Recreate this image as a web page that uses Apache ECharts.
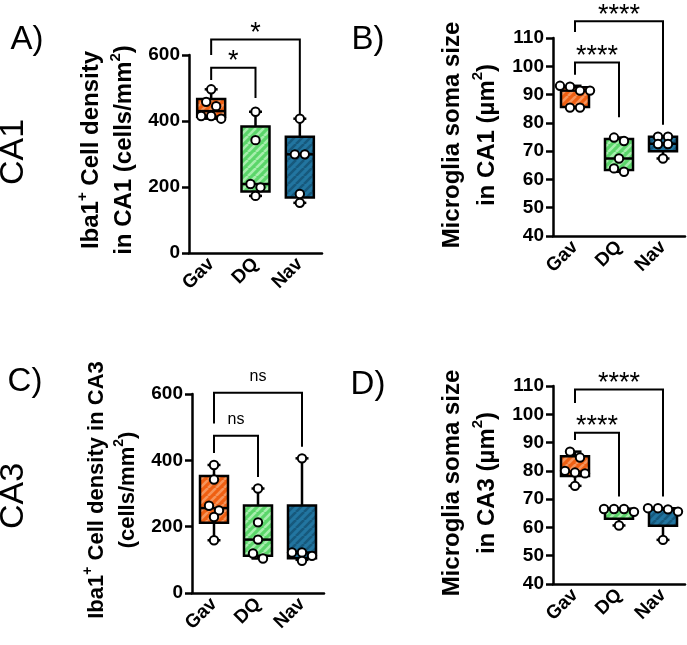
<!DOCTYPE html>
<html><head><meta charset="utf-8">
<script src="https://cdn.jsdelivr.net/npm/echarts@6/dist/echarts.min.js"></script>
<style>html,body{margin:0;padding:0;background:#fff}#c{width:687px;height:645px}</style>
</head><body><div id="c"></div>
<script>
// ---------- data ----------
const categories = ['Gav', 'DQ', 'Nav'];

// Iba1+ cell density in CA1 (cells/mm2)
const densityCA1Points = [[496, 458, 445, 415, 415, 407], [428, 342, 209, 199, 173], [407, 299, 299, 179, 152]];
const densityCA1Box = [[407, 413, 430, 467, 496], [173, 186, 209, 383, 428], [152, 168, 299, 352, 407]]; // min,q1,med,q3,max
const densityCA1Sig = [[0, 1, 561, 524, 470, '*'], [0, 2, 647, 600, 415, '*']]; // from,to,bar,leftEnd,rightEnd,label

// Microglia soma size in CA1 (um2)
const somaCA1Points = [[93.1, 92.8, 91.4, 91.4, 85.4, 85.4], [74.8, 73.6, 67.4, 63.9, 62.7], [75.1, 75.1, 72.5, 72.5, 67.4]];
const somaCA1Box = [[85.4, 85.6, 91.4, 92.6, 93.1], [62.7, 63.3, 67.4, 74.3, 74.8], [67.4, 70.0, 72.6, 75.1, 75.1]];
const somaCA1Sig = [[0, 1, 101.3, 97.0, 82.0, '****'], [0, 2, 115.9, 112.1, 79.3, '****']];

// Iba1+ cell density in CA3 (cells/mm2)
const densityCA3Points = [[386, 342, 263, 249, 229, 159], [315, 213, 161, 119, 104], [406, 122, 122, 112, 97]];
const densityCA3Box = [[159, 212, 256, 353, 386], [104, 112, 161, 264, 315], [100, 105, 122, 264, 406]];
const densityCA3Sig = [[0, 1, 474, 422, 350, 'ns'], [0, 2, 604, 511, 441, 'ns']];

// Microglia soma size in CA3 (um2)
const somaCA3Points = [[86.8, 84.7, 80.0, 79.4, 79.1, 74.7], [66.5, 66.5, 66.5, 65.5, 60.7], [66.8, 66.8, 66.4, 65.6, 55.6]];
const somaCA3Box = [[74.7, 78.2, 79.7, 85.2, 86.8], [60.7, 63.1, 66.5, 66.6, 66.6], [55.6, 60.6, 66.4, 66.8, 66.8]];
const somaCA3Sig = [[0, 1, 93.5, 90.9, 70.9, '****'], [0, 2, 108.8, 104.0, 70.9, '****']];

// ---------- styling ----------
const FONT = '"Liberation Sans", Arial, sans-serif';
function makePattern(base, stripe) {
  const s = 8;
  const c = document.createElement('canvas');
  c.width = s; c.height = s;
  const g = c.getContext('2d');
  g.fillStyle = base; g.fillRect(0, 0, s, s);
  g.strokeStyle = stripe; g.lineWidth = 2.6;
  g.beginPath();
  for (let k = -1; k <= 1; k++) { g.moveTo(k * s, s); g.lineTo(k * s + s, 0); }
  g.stroke();
  return { image: c, repeat: 'repeat' };
}
const fills = [
  makePattern('#EF5F12', '#F6945A'),
  makePattern('#5BD66A', '#A6EEAD'),
  makePattern('#2275A0', '#17597C')
];

const panels = [
  { grid: { left: 189, top: 55, width: 133, height: 198 }, min: 0, max: 600, interval: 200, pts: densityCA1Points, box: densityCA1Box, sig: densityCA1Sig },
  { grid: { left: 553, top: 38, width: 132, height: 198 }, min: 40, max: 110, interval: 10, pts: somaCA1Points, box: somaCA1Box, sig: somaCA1Sig },
  { grid: { left: 192, top: 394, width: 132, height: 199 }, min: 0, max: 600, interval: 200, pts: densityCA3Points, box: densityCA3Box, sig: densityCA3Sig },
  { grid: { left: 553, top: 386, width: 132, height: 198 }, min: 40, max: 110, interval: 10, pts: somaCA3Points, box: somaCA3Box, sig: somaCA3Sig }
];

const grids = [], xAxes = [], yAxes = [], series = [];
panels.forEach((p, i) => {
  grids.push(Object.assign({ outerBoundsMode: 'none', containLabel: false }, p.grid));
  xAxes.push({
    type: 'category', gridIndex: i, data: categories,
    axisLine: { lineStyle: { color: '#000', width: 2.5 } },
    axisTick: { alignWithLabel: true, length: 6, lineStyle: { color: '#000', width: 2.5 } },
    axisLabel: { rotate: 45, fontSize: 19, fontWeight: 'bold', color: '#000', fontFamily: FONT, margin: 8, interval: 0 },
    splitLine: { show: false }
  });
  yAxes.push({
    type: 'value', gridIndex: i, min: p.min, max: p.max, interval: p.interval,
    axisLine: { show: true, lineStyle: { color: '#000', width: 2.5 } },
    axisTick: { show: true, length: 7, lineStyle: { color: '#000', width: 2.5 } },
    axisLabel: { fontSize: 19, fontWeight: 'bold', color: '#000', fontFamily: FONT, margin: 9, showMinLabel: true, showMaxLabel: true },
    splitLine: { show: false }
  });
  // significance brackets
  series.push({
    type: 'custom', xAxisIndex: i, yAxisIndex: i, clip: false, silent: true, z: 1,
    data: p.sig.map(s => [s[0], s[1], s[2], s[3], s[4]]),
    renderItem: (params, api) => {
      const s = p.sig[params.dataIndex];
      const a = api.coord([s[0], s[2]]), b = api.coord([s[1], s[2]]);
      const l = api.coord([s[0], s[3]]), r = api.coord([s[1], s[4]]);
      const isNs = s[5] === 'ns';
      return {
        type: 'group', children: [
          { type: 'polyline', shape: { points: [[a[0], l[1]], [a[0], a[1]], [b[0], b[1]], [b[0], r[1]]] }, style: { stroke: '#000', lineWidth: 2, fill: null } },
          { type: 'text', x: (a[0] + b[0]) / 2, y: a[1] - (isNs ? 16 : 6), style: { text: s[5], fontSize: isNs ? 16 : 27, fontFamily: FONT, fill: '#000', align: 'center', verticalAlign: 'middle' } }
        ]
      };
    }
  });
  // boxes and whiskers
  series.push({
    type: 'custom', xAxisIndex: i, yAxisIndex: i, clip: false, silent: true, z: 2,
    data: p.box.map((b, k) => [k, b[0], b[1], b[2], b[3], b[4]]),
    encode: { x: 0, y: [1, 2, 3, 4, 5] },
    renderItem: (params, api) => {
      const c = api.value(0);
      const pm = api.coord([c, api.value(1)]), q1 = api.coord([c, api.value(2)]), md = api.coord([c, api.value(3)]),
            q3 = api.coord([c, api.value(4)]), px = api.coord([c, api.value(5)]);
      const x = pm[0], hw = 14, cw = 6.5;
      const ls = { stroke: '#000', lineWidth: 2.5 };
      return {
        type: 'group', children: [
          { type: 'line', shape: { x1: x, y1: pm[1], x2: x, y2: q1[1] }, style: ls },
          { type: 'line', shape: { x1: x, y1: q3[1], x2: x, y2: px[1] }, style: ls },
          { type: 'line', shape: { x1: x - cw, y1: pm[1], x2: x + cw, y2: pm[1] }, style: ls },
          { type: 'line', shape: { x1: x - cw, y1: px[1], x2: x + cw, y2: px[1] }, style: ls },
          { type: 'rect', shape: { x: x - hw, y: q3[1], width: 2 * hw, height: q1[1] - q3[1] }, style: { fill: fills[params.dataIndex], stroke: '#000', lineWidth: 2.5 } },
          { type: 'line', shape: { x1: x - hw, y1: md[1], x2: x + hw, y2: md[1] }, style: ls }
        ]
      };
    }
  });
  // individual points (swarm spread computed from pixel closeness)
  const flat = [];
  p.pts.forEach((arr, g) => arr.forEach((v, k) => flat.push([g, v, k])));
  series.push({
    type: 'custom', xAxisIndex: i, yAxisIndex: i, clip: false, silent: true, z: 3,
    data: flat,
    encode: { x: 0, y: 1 },
    renderItem: (params, api) => {
      const g = api.value(0), k = api.value(2);
      const vals = p.pts[g];
      const ys = vals.map(v => api.coord([g, v])[1]);
      const order = vals.map((v, j) => j).sort((a, b) => ys[a] - ys[b]);
      const off = new Array(vals.length).fill(0);
      let s = 0;
      while (s < order.length) {
        let e = s;
        while (e + 1 < order.length && ys[order[e + 1]] - ys[order[s]] < 6.5) e++;
        const n = e - s + 1;
        for (let m = 0; m < n; m++) off[order[s + m]] = (m - (n - 1) / 2) * 10;
        s = e + 1;
      }
      const pt = api.coord([g, vals[k]]);
      return { type: 'circle', shape: { cx: pt[0] + off[k], cy: pt[1], r: 4.2 }, style: { fill: '#fff', stroke: '#000', lineWidth: 2 } };
    }
  });
});

function title(x, y, text, size, lh) {
  return {
    type: 'text', x: x, y: y, rotation: Math.PI / 2, silent: true,
    style: {
      text: text, align: 'center', verticalAlign: 'middle', fill: '#000',
      rich: {
        t: { fontSize: size, fontWeight: 'bold', fontFamily: FONT, lineHeight: lh, fill: '#000' },
        s: { fontSize: Math.round(size * 0.62), fontWeight: 'bold', fontFamily: FONT, lineHeight: Math.round(size * 0.62), verticalAlign: 'top', fill: '#000' }
      }
    }
  };
}
function label(x, y, text, size, rot) {
  return { type: 'text', x: x, y: y, rotation: rot || 0, silent: true,
    style: { text: text, fontSize: size, fontFamily: FONT, fill: '#000', align: 'center', verticalAlign: 'middle' } };
}

const chart = echarts.init(document.getElementById('c'), null, { renderer: 'canvas' });
chart.setOption({
  animation: false,
  backgroundColor: '#fff',
  grid: grids, xAxis: xAxes, yAxis: yAxes, series: series,
  graphic: [
    label(27, 40, 'A)', 33), label(368, 40, 'B)', 33), label(25, 382, 'C)', 33), label(368, 385, 'D)', 33),
    label(14, 152, 'CA1', 34, Math.PI / 2), label(14, 496, 'CA3', 34, Math.PI / 2),
    title(108, 150, '{t|Iba1}{s|+}{t| Cell density}\n{t|in CA1 (cells/mm}{s|2}{t|)}', 24, 33),
    title(470, 135, '{t|Microglia soma size}\n{t|in CA1 (µm}{s|2}{t|)}', 24, 35),
    title(112, 490, '{t|Iba1}{s|+}{t| Cell density in CA3}\n{t|(cells/mm}{s|2}{t|)}', 22, 31),
    title(470, 483, '{t|Microglia soma size}\n{t|in CA3 (µm}{s|2}{t|)}', 24, 35)
  ]
});
</script></body></html>
